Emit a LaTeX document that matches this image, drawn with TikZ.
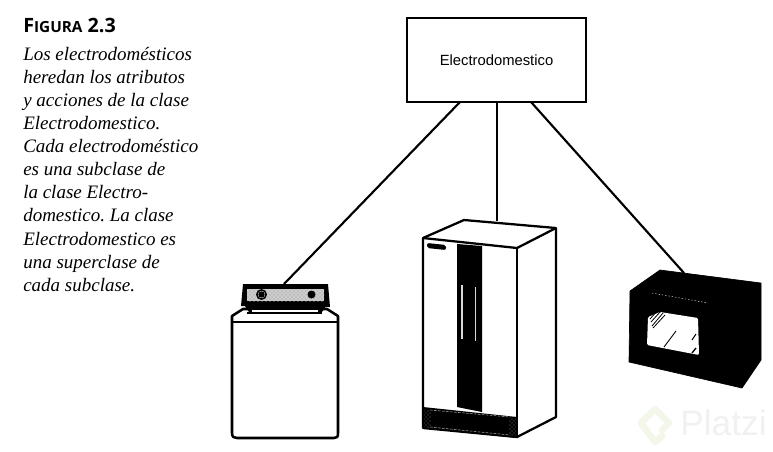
\documentclass[tikz,border=0pt]{standalone}
\usepackage{fontspec}
\setmainfont{Liberation Serif}
\newfontfamily\headfont{Open Sans}
\newfontfamily\boxfont{Liberation Sans}
\usetikzlibrary{patterns}
\definecolor{wmgreen}{HTML}{F3F7EA}
\definecolor{wmgray}{HTML}{F1F1F1}
\frenchspacing
\tikzset{
  x=0.75pt,y=-0.75pt,
  capline/.style={anchor=base west,inner sep=0pt,font=\fontsize{14.25pt}{15pt}\selectfont\itshape},
  classbox/.style={draw=black,line width=1.9pt,fill=white,minimum width=134pt,minimum height=63pt,inner sep=0pt,font=\boxfont\fontsize{11.1pt}{12pt}\selectfont},
  link/.style={draw=black,line width=1.6pt},
  outl/.style={draw=black,line width=1.7pt,line join=round},
  solid black/.style={fill=black,draw=black,line width=0.5pt,line join=round},
  speck/.style={pattern=crosshatch dots,pattern color=gray!90!black}
}
\begin{document}
\begin{tikzpicture}
\useasboundingbox (0,0) rectangle (773,451);
\fill[white] (0,0) rectangle (773,451);
% watermark
\draw[wmgreen,line width=5pt,line join=round,line cap=round] (662,430) -- (669,423) -- (655,409) -- (641,423) -- (655,442) -- (662,436);
\node[anchor=base west,inner sep=0pt,text=wmgray,font=\boxfont\fontsize{26.5pt}{28pt}\selectfont] (wm) at (680,435) {Platzi};
% heading and caption
\node[anchor=base west,inner sep=0pt,font=\headfont\bfseries\fontsize{14.8pt}{16pt}\selectfont] (head) at (23,32) {F{\fontsize{11.5pt}{13pt}\selectfont IGURA} 2.3};
\node[capline] (c1) at (23,60) {Los electrodomésticos};
\node[capline] (c2) at (23,83) {heredan los atributos};
\node[capline] (c3) at (23,106) {y acciones de la clase};
\node[capline] (c4) at (23,129) {Electrodomestico.};
\node[capline] (c5) at (23,152) {Cada electrodoméstico};
\node[capline] (c6) at (23,175) {es una subclase de};
\node[capline] (c7) at (23,198) {la clase Electro-};
\node[capline] (c8) at (23,221) {domestico. La clase};
\node[capline] (c9) at (23,245) {Electrodomestico es};
\node[capline] (c10) at (23,268) {una superclase de};
\node[capline] (c11) at (23,291) {cada subclase.};
% class box
\node[classbox] (cls) at (496.5,60) {Electrodomestico};
% anchors for connectors
\coordinate (washerTop) at (284,284);
\coordinate (fridgeTop) at (497,221);
\coordinate (ovenTop) at (684,273);
\coordinate (clsL) at (460,102);
\coordinate (clsM) at (497,102);
\coordinate (clsR) at (531,102);
\draw[link] (clsL) -- (washerTop);
\draw[link] (clsM) -- (fridgeTop);
\draw[link] (clsR) -- (ovenTop);
% washer
\draw[outl,line width=1.9pt,fill=white] (243,309) -- (232,316) -- (232,433) .. controls (232,437) and (234,438) .. (237,438) -- (334,438) .. controls (337,438) and (338,437) .. (338,433) -- (338,316) -- (327,309) -- cycle;
\draw[black,line width=1.1pt] (232,322) -- (338,322);
\fill[black] (245,306) -- (326,306) -- (322,312) -- (249,312) -- cycle;
\fill[white] (252,309.5) rectangle (318,311.5);
\fill[black] (247,312) -- (322,312) -- (322,314) -- (247,314) -- cycle;
\fill[black] (243,284) -- (328,284) -- (330,307) -- (241,306) -- cycle;
\fill[gray!50] (247,289) -- (324,289) -- (324,301) -- (247,301) -- cycle;
\fill[pattern=crosshatch dots,pattern color=white] (247,289) rectangle (324,301);
\draw[black,line width=1.2pt,fill=white] (261.5,294.5) circle (4.6);
\fill[black] (261.5,294.5) circle (3.2);
\fill[black] (311.5,294.5) circle (4);
% refrigerator
\draw[outl,fill=white] (464,220) -- (556,228) -- (556,417) -- (517,437) -- (423,428) -- (423,238) -- cycle;
\draw[outl] (423,238) -- (517,248) -- (556,228);
\draw[outl] (517,248) -- (517,437);
\fill[black] (457,244) -- (482,246) -- (482,412) -- (457,407) -- cycle;
\fill[black] (423,407) -- (517,417) -- (517,438) -- (423,428) -- cycle;
\fill[speck] (424,409) -- (431,410) -- (431,428) -- (424,427) -- cycle;
\fill[speck] (509,417) -- (516,418) -- (516,436) -- (509,435) -- cycle;
\draw[gray!70,line width=0.4pt,dash pattern=on 2pt off 1pt] (430,410) -- (510,417);
\draw[gray!70,line width=0.4pt,dash pattern=on 2pt off 1pt] (430,427) -- (510,435);
\draw[gray!30,line width=1.1pt] (462,285) -- (462,339);
\draw[gray!30,line width=1.1pt] (475.5,287) -- (475.5,341);
\fill[black,rounded corners=1.5pt] (427,243) -- (446,245) -- (446,250) -- (427,248) -- cycle;
% microwave
\fill[solid black] (660,270) -- (761,283) -- (761,360) -- (742,388) -- (629,362) -- (630,291) -- cycle;
\draw[white,line width=0.3pt,dash pattern=on 1pt off 1.5pt] (652,293) -- (708,303);
\fill[white,rounded corners=1pt] (648,317) -- (660,312) -- (698,318) -- (699,355) -- (647,345) -- cycle;
\draw[black,line width=0.6pt] (650,319) -- (657,311);
\draw[black,line width=0.6pt] (651,322) -- (660,312);
\draw[black,line width=0.6pt] (652,326) -- (663,313);
\draw[black,line width=0.6pt] (653,328) -- (665,315);
\draw[black,line width=0.7pt] (664,347) -- (676,331);
\draw[black,line width=0.8pt] (692,340) -- (696,334);
\draw[black,line width=1pt] (692,353) -- (696,348);
\end{tikzpicture}
\end{document}
